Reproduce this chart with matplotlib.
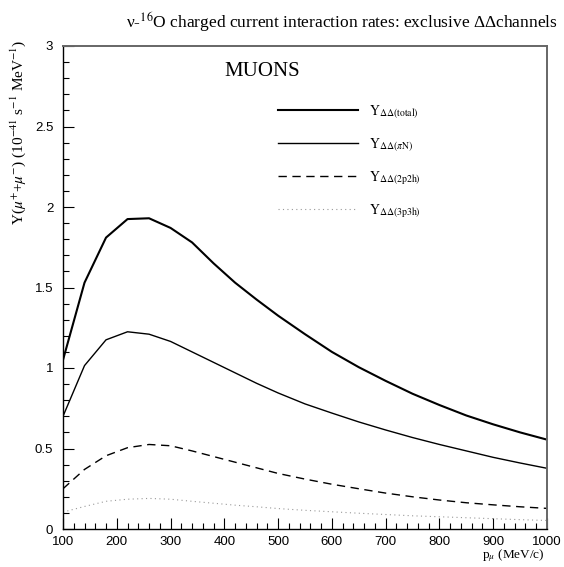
import numpy as np
import matplotlib.pyplot as plt
from matplotlib.ticker import MultipleLocator

plt.rcParams['mathtext.fontset'] = 'stix'

# momentum grid (MeV/c)
p_mu = [100, 140, 180, 220, 260, 300, 340, 380, 420, 460, 500,
        550, 600, 650, 700, 750, 800, 850, 900, 950, 1000]

y_total = [1.05, 1.53, 1.81, 1.925, 1.93, 1.87, 1.78, 1.65, 1.53, 1.425, 1.325,
           1.21, 1.10, 1.005, 0.92, 0.84, 0.77, 0.705, 0.65, 0.60, 0.555]
y_piN = [0.70, 1.015, 1.175, 1.225, 1.21, 1.165, 1.10, 1.035, 0.97, 0.905, 0.845,
         0.777, 0.72, 0.665, 0.615, 0.568, 0.525, 0.485, 0.445, 0.41, 0.377]
y_2p2h = [0.25, 0.37, 0.455, 0.505, 0.525, 0.517, 0.485, 0.45, 0.415, 0.38, 0.345,
          0.31, 0.278, 0.25, 0.223, 0.20, 0.18, 0.163, 0.15, 0.138, 0.128]
y_3p3h = [0.105, 0.14, 0.172, 0.185, 0.19, 0.185, 0.172, 0.16, 0.148, 0.138, 0.127,
          0.116, 0.107, 0.098, 0.09, 0.082, 0.076, 0.07, 0.064, 0.058, 0.053]

fig = plt.figure(figsize=(5.64, 5.67), dpi=100)
ax = fig.add_axes([63/564, 1 - 529/567, 484/564, 483/567])

ax.plot(p_mu, y_total, color='black', lw=1.5, label=r'$\mathrm{Y}_{\Delta\Delta(\mathrm{total})}$')
ax.plot(p_mu, y_piN, color='black', lw=1.0, label=r'$\mathrm{Y}_{\Delta\Delta(\pi\mathrm{N})}$')
ax.plot(p_mu, y_2p2h, color='black', lw=1.0, dashes=(6, 4), label=r'$\mathrm{Y}_{\Delta\Delta(\mathrm{2p2h})}$')
ax.plot(p_mu, y_3p3h, color='#999999', lw=0.8, dashes=(1, 3), label=r'$\mathrm{Y}_{\Delta\Delta(\mathrm{3p3h})}$')

ax.set_xlim(100, 1000)
ax.set_ylim(0, 3)
ax.xaxis.set_major_locator(MultipleLocator(100))
ax.xaxis.set_minor_locator(MultipleLocator(20))
ax.yaxis.set_minor_locator(MultipleLocator(0.1))
ax.set_yticks([0, 0.5, 1, 1.5, 2, 2.5, 3])
ax.set_yticklabels(['0', '0.5', '1', '1.5', '2', '2.5', '3'])
ax.tick_params(which='both', direction='in', top=False, right=False,
               labelsize=9.5, width=0.8)
ax.tick_params(axis='x', which='major', pad=5)
ax.tick_params(axis='y', which='major', pad=7)
ax.tick_params(which='major', length=8)
ax.tick_params(which='minor', length=4.5)
for lab in ax.get_xticklabels() + ax.get_yticklabels():
    lab.set_family('Liberation Sans')

for side in ['left', 'bottom']:
    ax.spines[side].set_linewidth(1.0)
for side in ['top', 'right']:
    ax.spines[side].set_linewidth(1.4)
    ax.spines[side].set_color('#666666')

ax.text(401, (529 - 71) / 161, 'MUONS', family='Liberation Serif', fontsize=15, va='center')

leg = ax.legend(loc='upper left', bbox_to_anchor=(0.4176, 0.907), frameon=False,
                fontsize=10, handlelength=5.8, handletextpad=0.8, labelspacing=1.1)

fig.text(558/564, 1 - 22/567, 'ν-$^{16}$O charged current interaction rates: exclusive ΔΔchannels',
         family='Liberation Serif', fontsize=12.5, ha='right', va='center')
fig.text(18/564, 1 - 40/567, r'Y($\mu^{+}$+$\mu^{-}$) (10$^{-41}$ s$^{-1}$ MeV$^{-1}$)',
         family='Liberation Serif', fontsize=11, rotation=90, ha='center', va='top')
fig.text(545/564, 1 - 556/567, r'p$_{\mu}$ (MeV/c)', family='Liberation Serif',
         fontsize=9.5, ha='right', va='center')

fig.savefig('out.png', dpi=100)
